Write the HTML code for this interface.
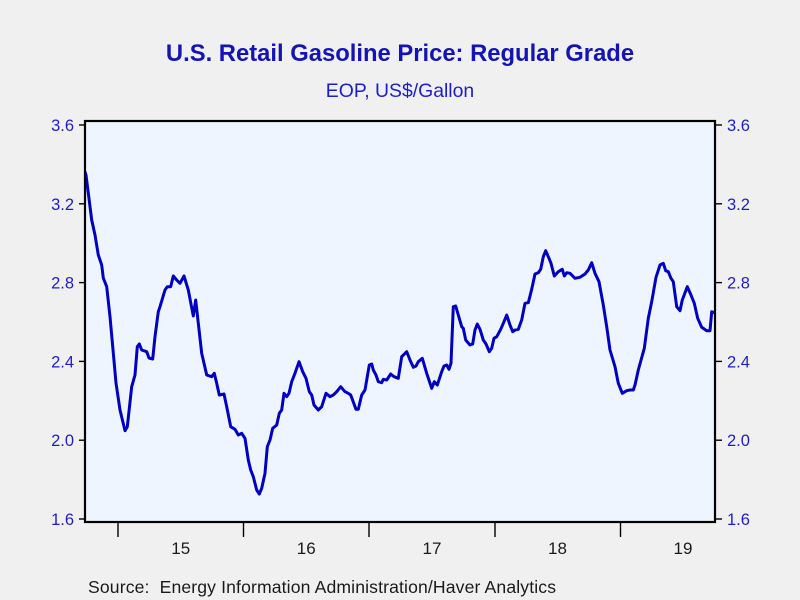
<!DOCTYPE html>
<html>
<head>
<meta charset="utf-8">
<style>
html,body{margin:0;padding:0;background:#f0f0f0;}
svg{display:block;}
text{font-family:"Liberation Sans",Arial,sans-serif;}
</style>
</head>
<body>
<svg width="800" height="600" viewBox="0 0 800 600" xmlns="http://www.w3.org/2000/svg">
<rect x="0" y="0" width="800" height="600" fill="#f0f0f0"/>
<text x="400" y="61" text-anchor="middle" font-size="23.8" font-weight="bold" fill="#1414b4">U.S. Retail Gasoline Price: Regular Grade</text>
<text x="400" y="97" text-anchor="middle" font-size="19.4" fill="#1e1ec8">EOP, US$/Gallon</text>

<rect x="85" y="121" width="630" height="401" fill="#eef5fe"/>
<defs><clipPath id="c"><rect x="86" y="122" width="628" height="399"/></clipPath></defs>
<polyline clip-path="url(#c)" fill="none" stroke="#0000c0" stroke-width="3" stroke-linejoin="round" stroke-linecap="round" points="
85,172 86,175 91.7,220 95,235 98.3,255 101.7,265 103.3,278 106.7,286.7 110,316.7 113.3,353 116,383 120,410 125,430.7 127.3,426.7 131.7,386.7 135,375 137.3,346.7 139.3,344 141.7,350 146.7,351.7 149,358 152.7,359 155,336.7 158.3,311.7 160,306.7 165,290 167.3,286.7 170.7,286.7 173.3,276 176.7,280 180,283.3 184,276 188.3,290 193.3,316 195.7,300 198.3,323.3 201.7,353.3 206.7,375 211.7,376.7 214.3,373.3 216.7,383.3 219.3,395 224,394 226.7,406.7 230.7,426.7 235,429.3 238.3,435 241.7,433.3 245,438.3 248.3,460 250.7,470 253.3,476.7 256.7,490 259.3,494 261.7,488.3 265,473.3 267.3,446.7 270,440 272.7,428.3 276.7,425 279.3,413.3 281.7,410 284,393.3 286.7,396.7 289,393.3 291.7,381.7 295,373.3 299,361.7 302.7,371.7 306,378.3 309.3,391.7 311.7,395 314,405 318.3,410 321.7,406.7 326,393.3 330,396.7 333.3,395 336.7,391.7 340.7,386.7 345,391.7 348.3,393.3 350.7,395 356,409.3 358.3,409.3 361.7,395 365,390 369.3,365 371.7,364 373.3,370 376,375 378.3,381.7 381.7,382.7 383.3,379.3 386.7,380 390.7,374 394,376.7 398.3,378.3 401.7,356.7 406.7,351.7 410,360 413.3,367.3 416,366 418.3,361.7 422.3,358.3 426.7,373.3 431.7,388.3 434.3,381.7 437.3,385 441.7,371.7 444,366 446.7,365 449,369.3 451,363.3 453.3,306.7 455.7,306 458.3,315 461.7,326.7 463.3,328.3 465.7,340 470,345 472.7,344 475,330 477.3,324 480,329.3 483.3,340 486,344 489.3,351.7 491.7,348.3 494,338.3 496.7,336.7 500.7,329.3 504,321.7 506.7,315 510,325 512.7,331.7 515,330 518.3,329.3 521.7,320 525,303.3 528.3,302.7 531.7,289.3 535,274 538.3,272.7 540.7,269.3 543.3,256.7 545.7,250.7 549,258.3 551,263.3 554.3,276 558.3,271.7 562.3,269.3 564.3,276 566.7,272.7 570,273.3 575,278.3 580,277.3 585,274 588.3,270 591.7,262.7 595,273.3 599,281.7 603.3,305 606.7,326.7 610,350 615,366.7 618.3,383.3 622.3,393.3 626.7,390.7 630,390 633.3,390 635,385 638.3,370 644.3,348.3 648.3,318.3 651.7,301.7 656,277.3 660,265 663.3,263.3 665.7,270.7 668.3,271.7 671,278.3 673.3,281.7 676.7,306.7 680,310.7 682.3,300 687.3,286.7 691,295 694.3,303.3 697.7,318.3 701.7,327.3 706.7,330.7 710,330.7 711.7,311.7 714,312.7"/>

<rect x="85" y="121" width="630" height="401" fill="none" stroke="#000" stroke-width="2.2"/>

<g stroke="#000" stroke-width="1.4">
<line x1="79" y1="125" x2="85" y2="125"/>
<line x1="79" y1="203.8" x2="85" y2="203.8"/>
<line x1="79" y1="282.6" x2="85" y2="282.6"/>
<line x1="79" y1="361.4" x2="85" y2="361.4"/>
<line x1="79" y1="440.2" x2="85" y2="440.2"/>
<line x1="79" y1="519" x2="85" y2="519"/>
<line x1="715" y1="125" x2="722" y2="125"/>
<line x1="715" y1="203.8" x2="722" y2="203.8"/>
<line x1="715" y1="282.6" x2="722" y2="282.6"/>
<line x1="715" y1="361.4" x2="722" y2="361.4"/>
<line x1="715" y1="440.2" x2="722" y2="440.2"/>
<line x1="715" y1="519" x2="722" y2="519"/>
<line x1="118" y1="522" x2="118" y2="537"/>
<line x1="243.5" y1="522" x2="243.5" y2="537"/>
<line x1="369" y1="522" x2="369" y2="537"/>
<line x1="495" y1="522" x2="495" y2="537"/>
<line x1="620.5" y1="522" x2="620.5" y2="537"/>
</g>

<g font-size="16.5" fill="#1e1ec8" text-anchor="end">
<text x="74" y="131">3.6</text>
<text x="74" y="209.8">3.2</text>
<text x="74" y="288.6">2.8</text>
<text x="74" y="367.4">2.4</text>
<text x="74" y="446.2">2.0</text>
<text x="74" y="525">1.6</text>
</g>
<g font-size="16.5" fill="#1e1ec8" text-anchor="start">
<text x="727" y="131">3.6</text>
<text x="727" y="209.8">3.2</text>
<text x="727" y="288.6">2.8</text>
<text x="727" y="367.4">2.4</text>
<text x="727" y="446.2">2.0</text>
<text x="727" y="525">1.6</text>
</g>
<g font-size="17" fill="#1a1a1a" text-anchor="middle">
<text x="180.7" y="554">15</text>
<text x="306.2" y="554">16</text>
<text x="432" y="554">17</text>
<text x="557.5" y="554">18</text>
<text x="683" y="554">19</text>
</g>
<text x="88" y="593" font-size="17.6" fill="#1a1a1a" textLength="468" lengthAdjust="spacing" xml:space="preserve">Source:  Energy Information Administration/Haver Analytics</text>
</svg>
</body>
</html>
